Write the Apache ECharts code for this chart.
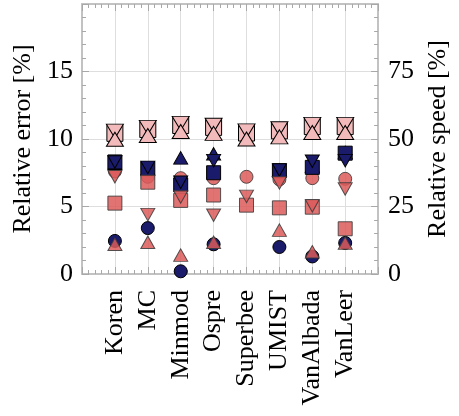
<!DOCTYPE html>
<html><head><meta charset="utf-8">
<script src="https://cdn.jsdelivr.net/npm/echarts@6/dist/echarts.min.js"></script>
<style>html,body{margin:0;padding:0;background:#fff}#c{width:459px;height:416px}</style>
</head><body><div id="c"></div>
<script>
const categories = ['Koren','MC','Minmod','Ospre','Superbee','UMIST','VanAlbada','VanLeer'];
const errorTicks = [0, 5, 10, 15];
const speedTicks = [0, 25, 50, 75];
// relative error [%] (left axis)
const navyCircle    = [2.45, 3.4, 0.2, 2.2, null, 2.0, 1.3, 2.3];
const navyTriUp     = [8.2, 7.8, 8.6, 8.9, null, 7.7, 8.0, 9.0];
const navySquare    = [8.3, 7.8, 6.6, 7.5, null, 7.65, 7.9, 8.95];
const navyTriDown   = [8.3, 7.9, 6.8, 8.4, null, 7.7, 8.35, 8.4];
const salmonCircle  = [7.6, 7.2, 7.1, 7.1, 7.2, 7.0, 7.1, 7.05];
const salmonSquare  = [5.25, 6.8, 5.45, 5.85, 5.1, 4.9, 4.95, 3.35];
const salmonTriDown = [7.2, 4.4, 5.7, 4.35, 5.75, 6.75, 5.05, 6.3];
const salmonTriUp   = [2.2, 2.35, 1.4, 2.35, null, 3.25, 1.65, 2.3];
// relative speed [%] (right axis)
const speedSquare   = [52.1, 53.5, 55.0, 54.3, 52.2, 53.0, 54.6, 54.6];
const speedTriDown  = [52.9, 54.3, 55.8, 55.1, 53.0, 53.8, 55.4, 55.4];
const speedTriUp    = [49.9, 51.3, 52.8, 52.1, 50.0, 50.8, 52.4, 52.4];

const FONT = 'Liberation Serif';
const NAVY = '#1b1b6b';
const SALMON = '#dc5a5a';
const PINK = '#f2baba';
const FRAME = '#c2c2c2';
const TICK = '#a8a8a8';
const GRID = '#dedede';

function pts(arr) { return arr.map((v, i) => [i + 1, v]); }
function mk(data, symbol, size, color, opts) {
  opts = opts || {};
  return {
    type: 'scatter',
    data: pts(data),
    symbol: symbol,
    symbolSize: size,
    symbolRotate: opts.rotate || 0,
    yAxisIndex: opts.y || 0,
    xAxisIndex: 0,
    itemStyle: {
      color: color,
      borderColor: opts.border || '#000',
      borderWidth: 1,
      opacity: opts.opacity || 1
    },
    emphasis: { disabled: true },
    silent: true
  };
}
const SO = { opacity: 0.85, border: '#3a3a3a' };
const TRI = [14, 12.5];
const series = [
  mk(salmonCircle, 'circle', 13, SALMON, SO),
  mk(navyTriUp, 'triangle', TRI, NAVY),
  mk(navySquare, 'rect', 14, NAVY),
  mk(navyTriDown, 'triangle', TRI, NAVY, { rotate: 180 }),
  mk(salmonSquare, 'rect', 14, SALMON, SO),
  mk(salmonTriDown, 'triangle', TRI, SALMON, Object.assign({ rotate: 180 }, SO)),
  mk(navyCircle, 'circle', 13, NAVY),
  mk(salmonTriUp, 'triangle', TRI, SALMON, SO),
  mk(speedSquare, 'rect', 16, PINK, { y: 1 }),
  mk(speedTriDown, 'triangle', [17, 14], PINK, { y: 1, rotate: 180 }),
  mk(speedTriUp, 'triangle', [17, 14], PINK, { y: 1 })
];

const xBase = {
  type: 'value', min: 0, max: 9, interval: 1,
  axisLine: { show: true, onZero: false, lineStyle: { color: FRAME, width: 2 } },
  axisTick: { show: true, inside: true, length: 7, lineStyle: { color: TICK, width: 1 } },
  minorTick: { show: true, splitNumber: 5, length: 4, lineStyle: { color: TICK, width: 1 } },
};
const option = {
  animation: false,
  backgroundColor: '#fff',
  grid: { left: 82, right: 72, top: 4, bottom: 142, containLabel: false },
  xAxis: [
    Object.assign({}, xBase, {
      position: 'bottom',
      splitLine: { show: true, lineStyle: { color: GRID, width: 1 } },
      axisLabel: {
        show: true, rotate: 90, margin: 16, interval: 0,
        fontFamily: FONT, fontSize: 26, color: '#000',
        formatter: v => (v >= 1 && v <= categories.length) ? categories[v - 1] : ''
      }
    }),
    Object.assign({}, xBase, {
      position: 'top',
      splitLine: { show: false },
      axisLabel: { show: false }
    })
  ],
  yAxis: [
    {
      type: 'value', min: 0, max: 20, interval: 5, position: 'left',
      name: 'Relative error [%]', nameLocation: 'middle', nameGap: 40, nameRotate: 90,
      nameTextStyle: { fontFamily: FONT, fontSize: 26, color: '#000' },
      axisLine: { show: true, onZero: false, lineStyle: { color: FRAME, width: 2 } },
      axisTick: { show: true, inside: true, length: 7, lineStyle: { color: TICK, width: 1 } },
      minorTick: { show: true, splitNumber: 5, length: 4, lineStyle: { color: TICK, width: 1 } },
      splitLine: { show: true, lineStyle: { color: GRID, width: 1 } },
      axisLabel: {
        margin: 9, fontFamily: FONT, fontSize: 26, color: '#000',
        formatter: v => errorTicks.includes(v) ? String(v) : ''
      }
    },
    {
      type: 'value', min: 0, max: 100, interval: 25, position: 'right',
      name: 'Relative speed [%]', nameLocation: 'middle', nameGap: 43, nameRotate: 90,
      nameTextStyle: { fontFamily: FONT, fontSize: 26, color: '#000' },
      axisLine: { show: true, onZero: false, lineStyle: { color: FRAME, width: 2 } },
      axisTick: { show: true, inside: true, length: 7, lineStyle: { color: TICK, width: 1 } },
      minorTick: { show: true, splitNumber: 5, length: 4, lineStyle: { color: TICK, width: 1 } },
      splitLine: { show: false },
      axisLabel: {
        margin: 10, fontFamily: FONT, fontSize: 26, color: '#000',
        formatter: v => speedTicks.includes(v) ? String(v) : ''
      }
    }
  ],
  series: series
};
const chart = echarts.init(document.getElementById('c'), null, { renderer: 'canvas' });
chart.setOption(option);
</script>
</body></html>
